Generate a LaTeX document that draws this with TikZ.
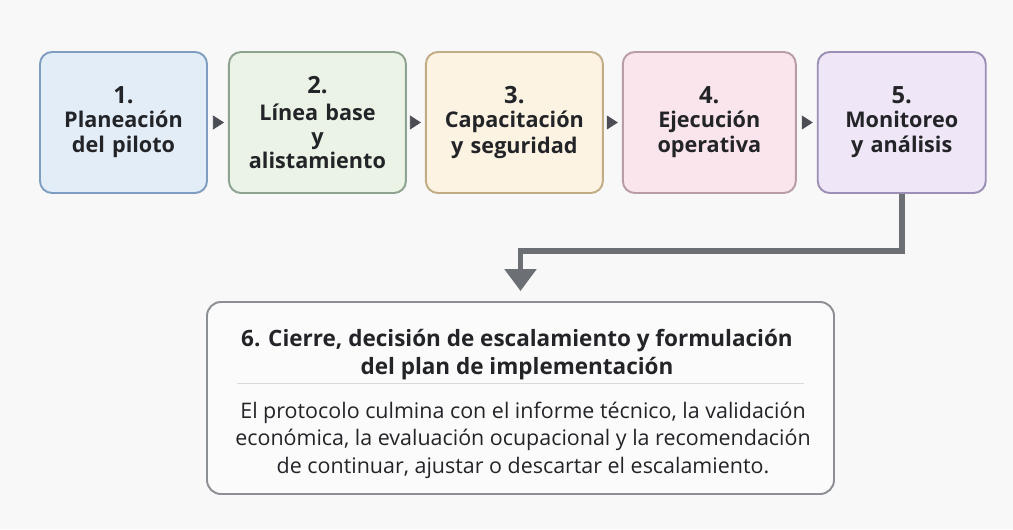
\documentclass[tikz,border=0pt]{standalone}
\usepackage{fontspec}
\setmainfont{Open Sans}
\usepackage{tikz}
\usetikzlibrary{positioning,arrows.meta}

\definecolor{pagebg}{HTML}{F8F8F8}
\definecolor{inkdark}{HTML}{232428}
\definecolor{connector}{HTML}{6C6F74}
\definecolor{tipdark}{HTML}{4A4D53}
\definecolor{blueFill}{HTML}{E3EDF8}\definecolor{blueLine}{HTML}{7F9DC0}
\definecolor{greenFill}{HTML}{EAF3E6}\definecolor{greenLine}{HTML}{8DA28F}
\definecolor{sandFill}{HTML}{FDF3E2}\definecolor{sandLine}{HTML}{C2AC86}
\definecolor{roseFill}{HTML}{F9E5EB}\definecolor{roseLine}{HTML}{B99CA7}
\definecolor{lilacFill}{HTML}{EFE7F7}\definecolor{lilacLine}{HTML}{9B8FB6}
\definecolor{closeFill}{HTML}{FBFBFB}\definecolor{closeLine}{HTML}{8C8F94}
\definecolor{ruleGray}{HTML}{D9DADC}

\newcommand{\stepnum}[2][-1pt]{{\fontsize{13.5}{13}\selectfont #2}\\[#1]}

\begin{document}
\begin{tikzpicture}[
  stepbox/.style={draw,rectangle,rounded corners=0.24cm,line width=1.1pt,
    minimum height=2.82cm,text width=3.1cm,align=center,
    text=inkdark,font=\bfseries\fontsize{12.3}{14.5}\selectfont},
  steparrow/.style={tipdark,line width=0.4pt,shorten <=0.1cm,shorten >=0.08cm,
    -{Triangle[length=0.22cm,width=0.28cm]}},
  flow/.style={connector,line width=3.4pt,shorten >=0.2cm,
    -{Triangle[length=0.44cm,width=0.62cm]}}]
  \useasboundingbox[fill=pagebg] (0,0) rectangle (20.26,10.58);

  \node (planeacion) [stepbox,minimum width=3.34cm,fill=blueFill,draw=blueLine] at (2.47,8.13)
    {\stepnum{1.} Planeación\\ del piloto};
  \node (linea_base) [stepbox,minimum width=3.54cm,fill=greenFill,draw=greenLine,
    font=\bfseries\fontsize{12.3}{13.4}\selectfont,right=0.40cm of planeacion]
    {\stepnum[2pt]{2.} Línea base\\ y\\ alistamiento};
  \node (capacitacion) [stepbox,minimum width=3.54cm,fill=sandFill,draw=sandLine,
    right=0.36cm of linea_base]
    {\stepnum{3.} Capacitación\\ y seguridad};
  \node (ejecucion) [stepbox,minimum width=3.46cm,fill=roseFill,draw=roseLine,
    right=0.36cm of capacitacion]
    {\stepnum{4.} Ejecución\\ operativa};
  \node (monitoreo) [stepbox,minimum width=3.36cm,fill=lilacFill,draw=lilacLine,
    right=0.40cm of ejecucion]
    {\stepnum{5.} Monitoreo\\ y análisis};

  \draw[steparrow] (planeacion) -- (linea_base);
  \draw[steparrow] (linea_base) -- (capacitacion);
  \draw[steparrow] (capacitacion) -- (ejecucion);
  \draw[steparrow] (ejecucion) -- (monitoreo);

  % closing step
  \node (cierre) [draw=closeLine,fill=closeFill,rounded corners=0.28cm,line width=1.1pt,
    minimum width=12.54cm,minimum height=3.84cm] at (10.41,2.62) {};
  \node (cierre_titulo) [text=inkdark,align=center,
    font=\bfseries\fontsize{12.8}{16}\selectfont] at (10.34,3.49)
    {6. Cierre, decisión de escalamiento y formulación\\ del plan de implementación};
  \node (cierre_texto) [text=inkdark,align=center,
    font=\fontsize{12.2}{15.6}\selectfont] at (10.46,1.78)
    {El protocolo culmina con el informe técnico, la validación\\
     económica, la evaluación ocupacional y la recomendación\\
     de continuar, ajustar o descartar el escalamiento.};
  \draw[ruleGray,line width=0.6pt] ([xshift=0.62cm,yshift=-1.64cm]cierre.north west)
    -- ([xshift=-0.62cm,yshift=-1.64cm]cierre.north east);

  \draw[flow] (monitoreo.south) -- ++(0,-1.14) -| (cierre.north);
\end{tikzpicture}
\end{document}
